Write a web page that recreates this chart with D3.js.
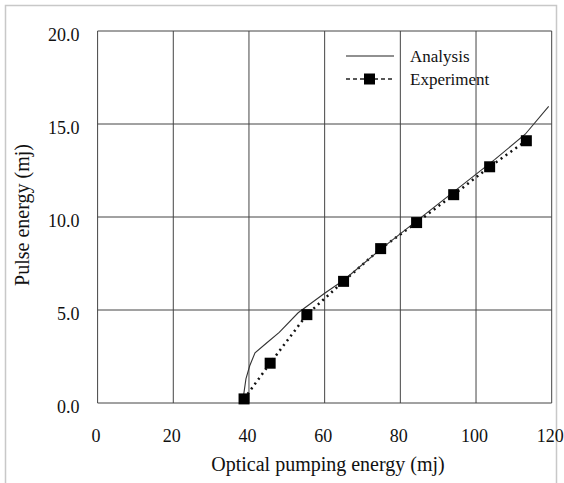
<!DOCTYPE html>
<html>
<head>
<meta charset="utf-8" />
<title>Pulse energy vs optical pumping energy</title>
<script src="https://d3js.org/d3.v7.min.js"></script>
<style>
    body { margin: 0; background: #fff; }
    text { font-family: "Liberation Serif", "Times New Roman", serif; fill: #111; }
</style>
</head>
<body>
<div id="the-chart"></div>
<script>
    // Analysis (solid line)
    var analysisX = [38.5, 39.2, 40.2, 41.6, 44.5, 48, 53, 60, 65, 75, 85, 95, 105, 113, 119.2];
    var analysisY = [0.3, 1.3, 2.0, 2.7, 3.2, 3.8, 4.85, 5.9, 6.6, 8.3, 9.9, 11.5, 13.1, 14.45, 15.95];

    // Experiment (dotted line with squares)
    var expX = [38.7, 45.6, 55.3, 65.0, 74.8, 84.3, 94.1, 103.6, 113.3];
    var expY = [0.22, 2.14, 4.75, 6.54, 8.3, 9.7, 11.2, 12.7, 14.1];

    var xTicks = [0, 20, 40, 60, 80, 100, 120];
    var yTicks = [0, 5, 10, 15, 20];

    var svg = d3.select("#the-chart").append("svg")
        .attr("width", 564)
        .attr("height", 483),
        margin = { top: 31, right: 12, bottom: 80, left: 97.6 },
        width = 551.7 - margin.left,
        height = 403 - margin.top;

    // light frame around the picture
    svg.append("path")
        .attr("d", "M5.5,483V5.5H556.5V483")
        .attr("fill", "none")
        .attr("stroke", "#c8c8c8")
        .attr("stroke-width", 1.5);

    var g = svg.append("g")
        .attr("transform", "translate(" + margin.left + "," + margin.top + ")");

    var x = d3.scaleLinear().domain([0, 120]).range([0, width]),
        y = d3.scaleLinear().domain([0, 20]).range([height, 0]);

    // grid
    g.append("g").selectAll("line.vx")
        .data(xTicks)
        .enter().append("line")
        .attr("x1", function (d) { return x(d); })
        .attr("x2", function (d) { return x(d); })
        .attr("y1", 0).attr("y2", height)
        .attr("stroke", "#444").attr("stroke-width", 1);

    g.append("g").selectAll("line.hy")
        .data(yTicks)
        .enter().append("line")
        .attr("x1", 0).attr("x2", width)
        .attr("y1", function (d) { return y(d); })
        .attr("y2", function (d) { return y(d); })
        .attr("stroke", "#444").attr("stroke-width", 1);

    // axes (labels only)
    var xAxis = g.append("g")
        .attr("transform", "translate(0," + height + ")")
        .call(d3.axisBottom(x).tickValues(xTicks).tickSize(0).tickPadding(26).tickFormat(d3.format("d")));
    xAxis.select(".domain").remove();
    xAxis.selectAll("text").style("font-size", "18px").style("font-family", "Liberation Serif").attr("fill", "#111").attr("dx", -2);

    var yAxis = g.append("g")
        .call(d3.axisLeft(y).tickValues(yTicks).tickSize(0).tickPadding(18).tickFormat(d3.format(".1f")));
    yAxis.select(".domain").remove();
    yAxis.selectAll("text").style("font-size", "18px").style("font-family", "Liberation Serif").attr("fill", "#111").attr("dy", "0.5em");

    // series
    var analysis = analysisX.map(function (d, i) { return [d, analysisY[i]]; });
    var experiment = expX.map(function (d, i) { return [d, expY[i]]; });

    var line = d3.line()
        .x(function (d) { return x(d[0]); })
        .y(function (d) { return y(d[1]); });

    g.append("path")
        .datum(experiment)
        .attr("d", line)
        .attr("fill", "none")
        .attr("stroke", "#111")
        .attr("stroke-width", 2.5)
        .attr("stroke-dasharray", "2,4");

    g.append("path")
        .datum(analysis)
        .attr("d", line)
        .attr("fill", "none")
        .attr("stroke", "#333")
        .attr("stroke-width", 1.1);

    g.selectAll("rect.pt")
        .data(experiment)
        .enter().append("rect")
        .attr("class", "pt")
        .attr("x", function (d) { return x(d[0]) - 5.5; })
        .attr("y", function (d) { return y(d[1]) - 5.5; })
        .attr("width", 11).attr("height", 11)
        .attr("fill", "#000");

    // legend
    var legend = svg.append("g");
    legend.append("line")
        .attr("x1", 346).attr("x2", 394).attr("y1", 56).attr("y2", 56)
        .attr("stroke", "#222").attr("stroke-width", 1.1);
    legend.append("text").attr("x", 410).attr("y", 62).style("font-size", "17px").text("Analysis");

    legend.append("line")
        .attr("x1", 346).attr("x2", 394).attr("y1", 79).attr("y2", 79)
        .attr("stroke", "#222").attr("stroke-width", 1.3).attr("stroke-dasharray", "4,3");
    legend.append("rect")
        .attr("x", 364).attr("y", 73.5).attr("width", 11).attr("height", 11).attr("fill", "#000");
    legend.append("text").attr("x", 410).attr("y", 85).style("font-size", "17px").text("Experiment");

    // axis titles
    svg.append("text")
        .attr("x", 328).attr("y", 471)
        .attr("text-anchor", "middle")
        .style("font-size", "20px")
        .text("Optical pumping energy (mj)");

    svg.append("text")
        .attr("transform", "translate(29,215) rotate(-90)")
        .attr("text-anchor", "middle")
        .style("font-size", "20px")
        .text("Pulse energy (mj)");
</script>
</body>
</html>
